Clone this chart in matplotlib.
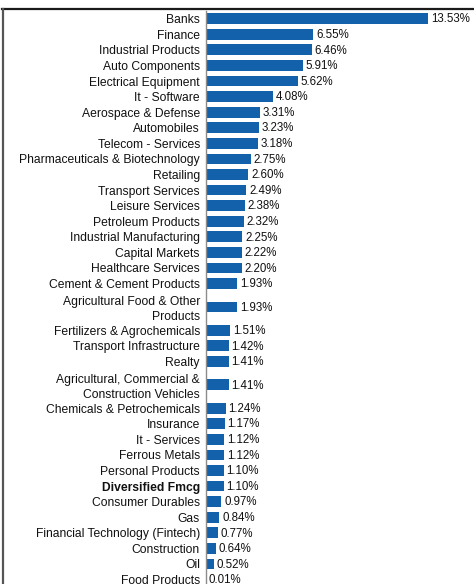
import matplotlib.pyplot as plt
from matplotlib.lines import Line2D

# sector allocation (%), top to bottom
sectors = [
    "Banks", "Finance", "Industrial Products", "Auto Components",
    "Electrical Equipment", "It - Software", "Aerospace & Defense",
    "Automobiles", "Telecom - Services", "Pharmaceuticals & Biotechnology",
    "Retailing", "Transport Services", "Leisure Services",
    "Petroleum Products", "Industrial Manufacturing", "Capital Markets",
    "Healthcare Services", "Cement & Cement Products",
    "Agricultural Food & Other\nProducts", "Fertilizers & Agrochemicals",
    "Transport Infrastructure", "Realty",
    "Agricultural, Commercial &\nConstruction Vehicles",
    "Chemicals & Petrochemicals", "Insurance", "It - Services",
    "Ferrous Metals", "Personal Products", "Diversified Fmcg",
    "Consumer Durables", "Gas", "Financial Technology (Fintech)",
    "Construction", "Oil", "Food Products",
]
weights = [
    13.53, 6.55, 6.46, 5.91, 5.62, 4.08, 3.31, 3.23, 3.18, 2.75,
    2.60, 2.49, 2.38, 2.32, 2.25, 2.22, 2.20, 1.93, 1.93, 1.51,
    1.42, 1.41, 1.41, 1.24, 1.17, 1.12, 1.12, 1.10, 1.10, 0.97,
    0.84, 0.77, 0.64, 0.52, 0.01,
]
bold_rows = ["Diversified Fmcg"]

BAR_COLOR = "#1461ab"
TEXT_COLOR = "#111111"
plt.rcParams["font.family"] = ["Liberation Sans", "DejaVu Sans"]

# rows with wrapped labels get twice the height
heights = [2 if "\n" in s else 1 for s in sectors]
centers = []
acc = 0
for h in heights:
    centers.append(acc + h / 2)
    acc += h
total = acc

W, H = 474, 584
fig = plt.figure(figsize=(W / 100, H / 100), dpi=100)

row_px = 15.58
top_px = 10.9
left_px = 205.5
ax_h = total * row_px
ax = fig.add_axes([left_px / W, 1 - (top_px + ax_h) / H,
                   (W - left_px) / W, ax_h / H])

ax.barh(centers, weights, height=0.69, color=BAR_COLOR, zorder=2)
ax.set_ylim(total, 0)
ax.set_xlim(0, 16.33)

for y, v in zip(centers, weights):
    ax.annotate(f"{v:.2f}%", (v, y), xytext=(2, -0.5), textcoords="offset points",
                va="center", ha="left", fontsize=8.3, color=TEXT_COLOR)

ax.set_yticks(centers)
ax.set_yticklabels(sectors, fontsize=8.7, color=TEXT_COLOR)
for lbl in ax.get_yticklabels():
    lbl.set_multialignment("right")
    lbl.set_linespacing(1.25)
    if lbl.get_text() in bold_rows:
        lbl.set_fontweight("bold")
ax.tick_params(axis="y", length=0, pad=4)
ax.set_xticks([])

for side in ("top", "right", "bottom"):
    ax.spines[side].set_visible(False)
ax.spines["left"].set_color("#8c8c8c")
ax.spines["left"].set_linewidth(1.0)

# outer frame: top and left edges
fig.add_artist(Line2D([2 / W, 1], [1 - 8.5 / H, 1 - 8.5 / H],
                      transform=fig.transFigure, color="#1a1a1a", lw=1.6))
fig.add_artist(Line2D([2.5 / W, 2.5 / W], [0, 1 - 8.5 / H],
                      transform=fig.transFigure, color="#555555", lw=1.6))

fig.savefig("out.png", dpi=100, facecolor="white")
